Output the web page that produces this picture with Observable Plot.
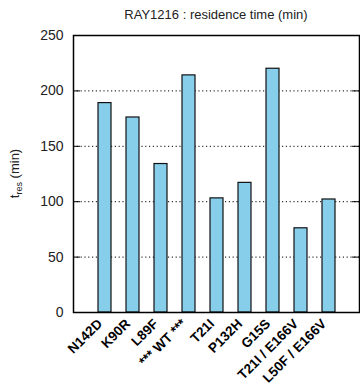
<!DOCTYPE html>
<html>
<head>
<meta charset="utf-8">
<script src="https://cdn.jsdelivr.net/npm/d3@7"></script>
<script src="https://cdn.jsdelivr.net/npm/@observablehq/plot@0.6"></script>
<style>
  html, body { margin: 0; padding: 0; background: #fff; }
  svg { display: block; }
</style>
</head>
<body>
<div id="chart"></div>
<script>
const categories = ["N142D", "K90R", "L89F", "*** WT ***", "T21I", "P132H", "G15S", "T21I / E166V", "L50F / E166V"];
const residence = [189, 176, 134, 214, 103, 117, 220, 76, 102];
const yTicks = [0, 50, 100, 150, 200, 250];
const gridTicks = [50, 100, 150, 200];
const titleText = "RAY1216 : residence time (min)";

const data = categories.map((c, i) => ({name: c, value: residence[i]}));

const W = 360, H = 385;
const mL = 73, mR = 1, mT = 35, mB = 73;
const plotW = W - mL - mR;
const font = "Liberation Sans, Arial, Helvetica, sans-serif";

const chart = Plot.plot({
  width: W,
  height: H,
  marginLeft: mL,
  marginRight: mR,
  marginTop: mT,
  marginBottom: mB,
  style: {fontFamily: font, background: "white", overflow: "visible"},
  x: {domain: categories, paddingInner: 0.545, paddingOuter: 0.7725, align: 0.5, label: null},
  y: {domain: [0, 250], label: null},
  marks: [
    Plot.ruleY(gridTicks, {stroke: "black", strokeWidth: 1, strokeDasharray: "1.2,2.6"}),
    Plot.ruleY(gridTicks, {stroke: "black", strokeWidth: 1, insetRight: plotW - 7}),
    Plot.ruleY(gridTicks, {stroke: "black", strokeWidth: 1, insetLeft: plotW - 7}),
    Plot.barY(data, {x: "name", y: "value", fill: "#87CEEB", stroke: "#111", strokeWidth: 1.2}),
    Plot.frame({stroke: "black", strokeWidth: 1.5}),
    Plot.axisY(yTicks, {tickSize: 0, tickPadding: 10, fontSize: 14, fill: "#222", label: null}),
    Plot.axisX({tickSize: 0, tickRotate: -45, tickPadding: 6, fontSize: 13.5, fontWeight: "bold", fill: "black", label: null, textAnchor: "end", dx: -5, dy: 3})
  ]
});

const svg = d3.select(chart);
svg.append("text")
  .attr("x", mL + plotW / 2)
  .attr("y", 19)
  .attr("text-anchor", "middle")
  .attr("font-family", font)
  .attr("font-size", 13)
  .attr("fill", "#222")
  .text(titleText);

const yl = svg.append("text")
  .attr("transform", `translate(19, ${mT + (H - mT - mB) / 2}) rotate(-90)`)
  .attr("text-anchor", "middle")
  .attr("font-family", font)
  .attr("font-size", 13)
  .attr("fill", "#222");
yl.append("tspan").text("t");
yl.append("tspan").attr("font-size", 9).attr("dy", 3).text("res");
yl.append("tspan").attr("dy", -3).text(" (min)");

document.getElementById("chart").appendChild(chart);
</script>
</body>
</html>
